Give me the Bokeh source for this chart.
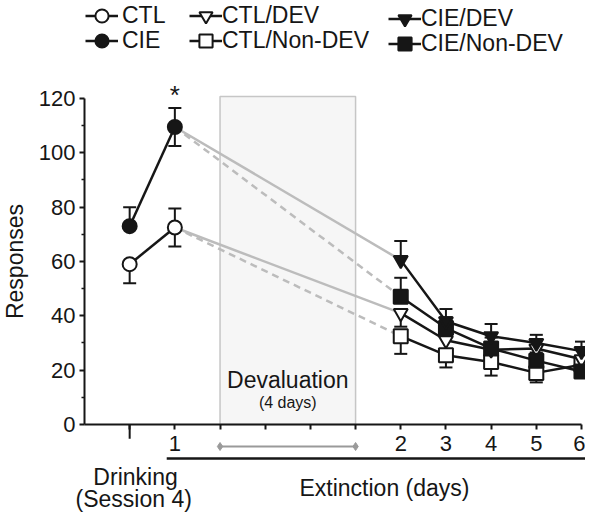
from bokeh.plotting import figure
from bokeh.models import Range1d, FixedTicker, Legend, LegendItem
from bokeh.core.properties import value
from bokeh.embed import file_html
from bokeh.resources import INLINE

FONT = "Liberation Sans"
INK = "#161616"
GRAY = "#bcbcbc"
ARROW_GRAY = "#9a9a9a"

# ---- data ----
drink_x = [0, 1]
ext_x = [6, 7, 8, 9, 10]
x_ticks = [0, 1, 2, 3, 4, 5, 6, 7, 8, 9, 10]
x_tick_labels = {1: "1", 6: "2", 7: "3", 8: "4", 9: "5", 10: "6"}
y_ticks = [0, 20, 40, 60, 80, 100, 120]
y_minor = [10, 30, 50, 70, 90, 110]

ctl_drink = [59, 72.5]
ctl_drink_lo = [7, 7]
ctl_drink_hi = [0, 7]
cie_drink = [73, 109.5]
cie_drink_lo = [0, 7]
cie_drink_hi = [7, 7]

cie_dev = [60.5, 38, 32.5, 30, 27]
cie_dev_hi = [7, 4.5, 4.5, 3, 3.5]
cie_ndev = [47, 35.5, 28, 23.5, 19.5]
cie_ndev_hi = [7, 4, 4, 3, 3]
ctl_dev = [41, 31, 27.5, 28, 24]
ctl_dev_lo = [5, 4, 4, 3, 3]
ctl_ndev = [32.5, 25.5, 23, 19, 22]
ctl_ndev_lo = [6.5, 4.5, 5, 3.5, 3]

deval_start, deval_end, deval_top = 2, 5, 120.7

p = figure(width=585, height=512, x_range=Range1d(-2.859, 10.089),
           y_range=Range1d(-32.39, 156.06),
           output_backend="svg", toolbar_location=None,
           min_border_left=0, min_border_right=0, min_border_top=0, min_border_bottom=0)
p.outline_line_color = None
p.grid.visible = False
p.background_fill_color = "white"

# axes
for ax in (p.xaxis[0], p.yaxis[0]):
    ax.axis_line_color = INK
    ax.axis_line_width = 2
    ax.major_tick_line_color = INK
    ax.major_tick_line_width = 2
    ax.minor_tick_line_color = INK
    ax.minor_tick_line_width = 1.5
    ax.major_label_text_font = FONT
    ax.major_label_text_font_size = "22px"
    ax.major_label_text_color = INK
    ax.major_tick_in = 0

xa = p.xaxis[0]
xa.ticker = FixedTicker(ticks=x_ticks)
xa.major_label_overrides = {t: x_tick_labels.get(t, "") for t in x_ticks}
xa.major_tick_out = 5
xa.minor_tick_out = 0
xa.bounds = (-1, 10)
xa.major_label_standoff = 7
xa.fixed_location = 0

ya = p.yaxis[0]
ya.ticker = FixedTicker(ticks=y_ticks, minor_ticks=y_minor)
ya.bounds = (0, 120)
ya.major_tick_out = 5
ya.minor_tick_out = 3
ya.minor_tick_in = 0
ya.major_label_standoff = 4
ya.axis_label = "Responses"
ya.axis_label_text_font = FONT
ya.axis_label_text_font_style = "normal"
ya.axis_label_text_font_size = "23px"
ya.axis_label_text_color = INK
ya.axis_label_standoff = 8
ya.fixed_location = -1

# devaluation box
p.quad(left=[deval_start], right=[deval_end], bottom=[0], top=[deval_top],
       fill_color="#f6f6f6", line_color="#c6c6c6", line_width=1.5)
p.text(x=[(deval_start + deval_end) / 2], y=[16.2], text=["Devaluation"],
       text_font=value(FONT), text_font_size="23px", text_align="center",
       text_baseline="middle", text_color=INK)
p.text(x=[(deval_start + deval_end) / 2], y=[8.1], text=["(4 days)"],
       text_font=value(FONT), text_font_size="16px", text_align="center",
       text_baseline="middle", text_color=INK)

# gray connectors drinking -> extinction
p.line([drink_x[1], ext_x[0]], [cie_drink[1], cie_dev[0]], line_color=GRAY, line_width=2.5)
p.line([drink_x[1], ext_x[0]], [cie_drink[1], cie_ndev[0]], line_color=GRAY, line_width=2.5,
       line_dash="7 5")
p.line([drink_x[1], ext_x[0]], [ctl_drink[1], ctl_dev[0]], line_color=GRAY, line_width=2.5)
p.line([drink_x[1], ext_x[0]], [ctl_drink[1], ctl_ndev[0]], line_color=GRAY, line_width=2.5,
       line_dash="7 5")


def errbars(xs, ys, lo, hi):
    y0 = [y - l for y, l in zip(ys, lo)]
    y1 = [y + h for y, h in zip(ys, hi)]
    p.segment(x0=xs, y0=y0, x1=xs, y1=y1, line_color=INK, line_width=2)
    cx = [x for x, l in zip(xs, lo) if l > 0] + [x for x, h in zip(xs, hi) if h > 0]
    cy = [y for y, l in zip(y0, lo) if l > 0] + [y for y, h in zip(y1, hi) if h > 0]
    p.scatter(cx, cy, marker="dash", size=13, line_color=INK, line_width=2)


errbars(drink_x, ctl_drink, ctl_drink_lo, ctl_drink_hi)
errbars(drink_x, cie_drink, cie_drink_lo, cie_drink_hi)
zeros = [0] * len(ext_x)
errbars(ext_x, ctl_ndev, ctl_ndev_lo, zeros)
errbars(ext_x, ctl_dev, ctl_dev_lo, zeros)
errbars(ext_x, cie_ndev, zeros, cie_ndev_hi)
errbars(ext_x, cie_dev, zeros, cie_dev_hi)

series = [
    ("CTL", drink_x, ctl_drink, "circle", "white", 14),
    ("CIE", drink_x, cie_drink, "circle", INK, 14),
    ("CTL/Non-DEV", ext_x, ctl_ndev, "square", "white", 14),
    ("CTL/DEV", ext_x, ctl_dev, "inverted_triangle", "white", 14),
    ("CIE/Non-DEV", ext_x, cie_ndev, "square", INK, 14),
    ("CIE/DEV", ext_x, cie_dev, "inverted_triangle", INK, 14),
]
rend = {}
for name, xs, ys, mk, fc, sz in series:
    ln = p.line(xs, ys, line_color=INK, line_width=2.5)
    sc = p.scatter(xs, ys, marker=mk, size=sz, fill_color=fc, line_color=INK, line_width=2)
    rend[name] = (ln, sc)

# significance marker
p.text(x=[drink_x[1]], y=[121.2], text=["*"], text_font=value(FONT), text_font_size="26px",
       text_align="center", text_baseline="middle", text_color=INK)

# legends (one per entry for exact placement)
leg_pos = {
    "CTL": (85, 480, 4), "CIE": (85, 455, 4),
    "CTL/DEV": (189, 480, 0), "CTL/Non-DEV": (189, 455, 0),
    "CIE/DEV": (388, 477, 0), "CIE/Non-DEV": (388, 452, 0),
}
for name, (lx, ly, st) in leg_pos.items():
    lg = Legend(items=[LegendItem(label=name, renderers=list(rend[name]))],
                location=(lx, ly), padding=0, margin=0, spacing=0,
                glyph_width=33, glyph_height=33, label_height=22, label_standoff=st,
                label_text_font=FONT, label_text_font_size="23px", label_text_color=INK,
                background_fill_alpha=0, border_line_alpha=0)
    p.add_layout(lg)

# below-axis decorations (drawn in data space inside the frame)
p.segment(x0=[drink_x[0]], y0=[0], x1=[drink_x[0]], y1=[-5.2], line_color=INK, line_width=2)
p.segment(x0=[deval_start], y0=[-8.1], x1=[deval_end], y1=[-8.1], line_color=ARROW_GRAY,
          line_width=2)
p.scatter([deval_start, deval_end], [-8.1, -8.1], marker="diamond", size=8,
          fill_color=ARROW_GRAY, line_color=ARROW_GRAY)
p.segment(x0=[0.82], y0=[-12.5], x1=[10.089], y1=[-12.5], line_color=INK, line_width=2.5)
p.text(x=[0.13, 0.09, 5.64], y=[-19.5, -27.6, -23.2],
       text=["Drinking", "(Session 4)", "Extinction (days)"],
       text_font=value(FONT), text_font_size="23px", text_align="center",
       text_baseline="middle", text_color=INK)

open("out.html", "w").write(file_html(p, INLINE))
